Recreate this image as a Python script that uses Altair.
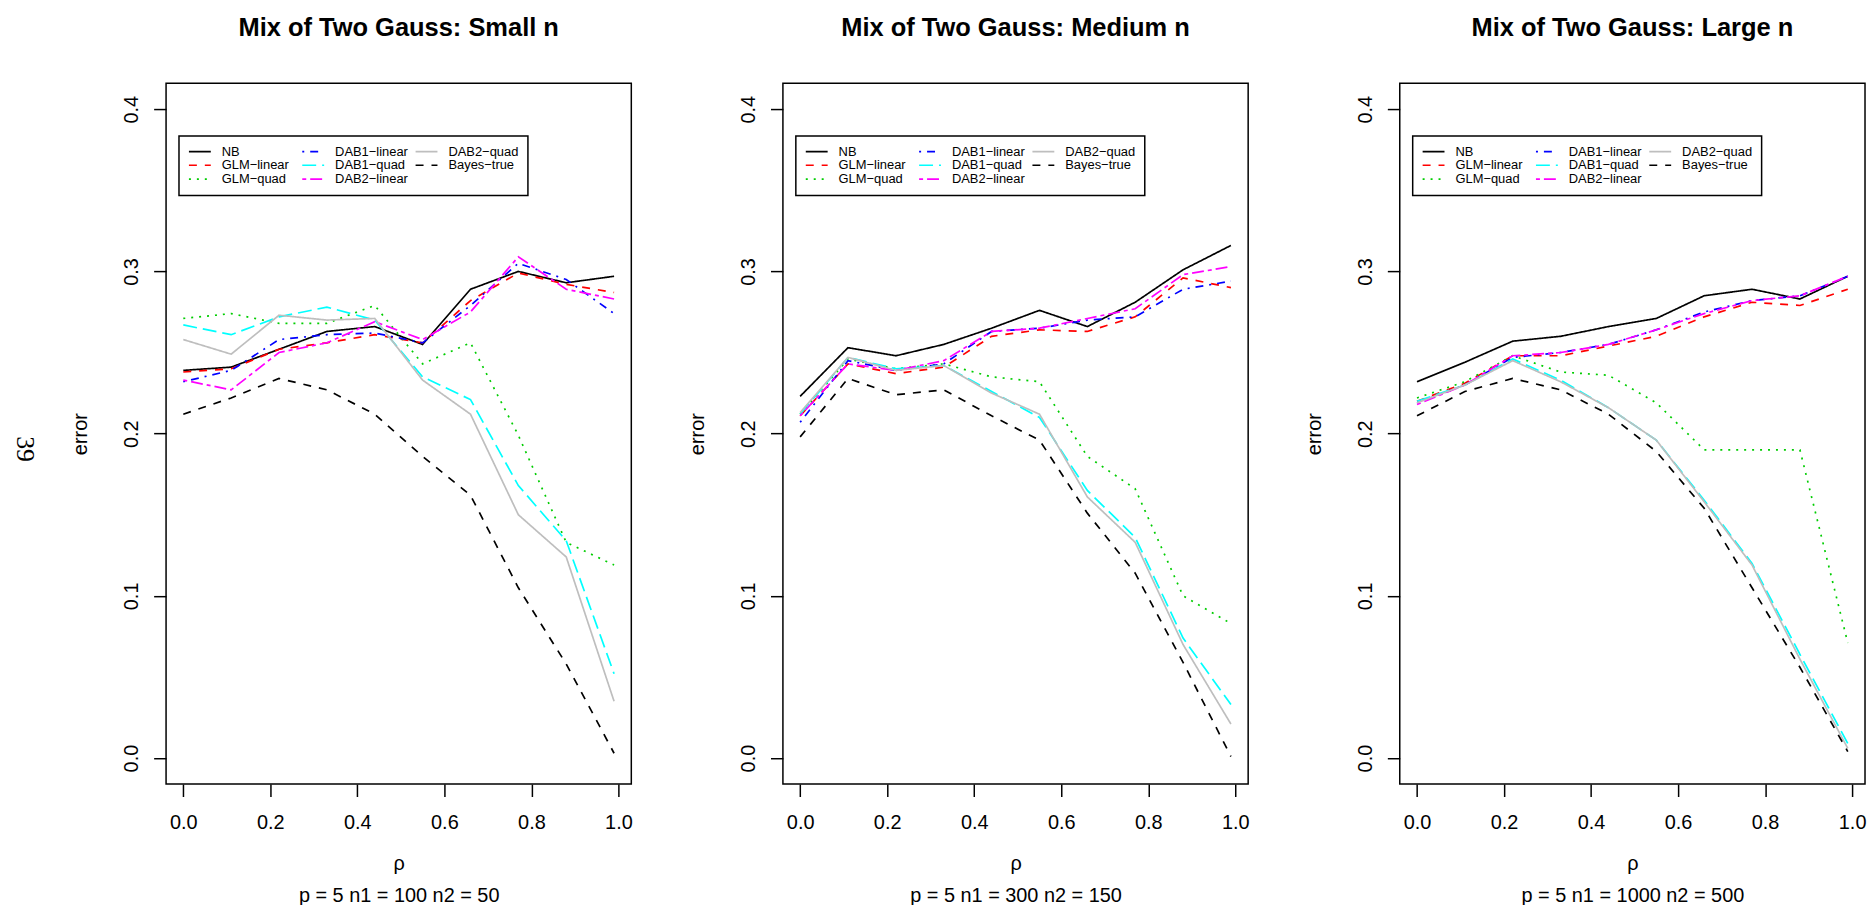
import altair as alt
import pandas as pd

rho = [0.00, 0.11, 0.22, 0.33, 0.44, 0.55, 0.66, 0.77, 0.88, 0.99]

series = ["NB", "GLM−linear", "GLM−quad", "DAB1−linear", "DAB1−quad",
          "DAB2−linear", "DAB2−quad", "Bayes−true"]
colors = ["#000000", "#FF0000", "#00CD00", "#0000FF", "#00FFFF",
          "#FF00FF", "#BEBEBE", "#000000"]
dashes = [[1, 0], [8, 8], [2, 6], [2, 6, 8, 6], [14, 6], [4, 4, 12, 4], [1, 0], [8, 8]]

y_ticks = [0.0, 0.1, 0.2, 0.3, 0.4]
x_ticks = [0.0, 0.2, 0.4, 0.6, 0.8, 1.0]

# ---- Small n ----
small_nb = [0.239, 0.241, 0.252, 0.263, 0.266, 0.255, 0.289, 0.300, 0.293, 0.297]
small_glm_linear = [0.238, 0.240, 0.252, 0.256, 0.261, 0.256, 0.282, 0.299, 0.292, 0.287]
small_glm_quad = [0.271, 0.274, 0.268, 0.268, 0.279, 0.243, 0.256, 0.199, 0.133, 0.119]
small_dab1_linear = [0.232, 0.239, 0.258, 0.261, 0.262, 0.256, 0.279, 0.305, 0.295, 0.274]
small_dab1_quad = [0.267, 0.261, 0.272, 0.278, 0.270, 0.235, 0.221, 0.168, 0.134, 0.052]
small_dab2_linear = [0.233, 0.227, 0.250, 0.256, 0.269, 0.258, 0.275, 0.309, 0.289, 0.283]
small_dab2_quad = [0.258, 0.249, 0.273, 0.270, 0.271, 0.233, 0.212, 0.150, 0.124, 0.035]
small_bayes = [0.212, 0.222, 0.234, 0.227, 0.212, 0.186, 0.162, 0.105, 0.058, 0.003]

# ---- Medium n ----
med_nb = [0.223, 0.253, 0.248, 0.255, 0.265, 0.276, 0.266, 0.281, 0.301, 0.316]
med_glm_linear = [0.211, 0.243, 0.237, 0.241, 0.260, 0.264, 0.263, 0.272, 0.296, 0.290]
med_glm_quad = [0.212, 0.246, 0.240, 0.243, 0.235, 0.232, 0.186, 0.166, 0.100, 0.083]
med_dab1_linear = [0.207, 0.245, 0.239, 0.243, 0.263, 0.265, 0.270, 0.272, 0.289, 0.294]
med_dab1_quad = [0.212, 0.247, 0.240, 0.242, 0.226, 0.210, 0.165, 0.136, 0.074, 0.033]
med_dab2_linear = [0.211, 0.243, 0.239, 0.245, 0.263, 0.265, 0.271, 0.277, 0.298, 0.303]
med_dab2_quad = [0.213, 0.247, 0.239, 0.242, 0.225, 0.212, 0.161, 0.133, 0.070, 0.021]
med_bayes = [0.198, 0.234, 0.224, 0.227, 0.211, 0.196, 0.151, 0.114, 0.059, 0.001]

# ---- Large n ----
large_nb = [0.232, 0.244, 0.257, 0.260, 0.266, 0.271, 0.285, 0.289, 0.283, 0.297]
large_glm_linear = [0.220, 0.231, 0.248, 0.248, 0.254, 0.260, 0.272, 0.281, 0.279, 0.289]
large_glm_quad = [0.222, 0.232, 0.248, 0.238, 0.236, 0.219, 0.190, 0.190, 0.190, 0.071]
large_dab1_linear = [0.219, 0.230, 0.247, 0.250, 0.255, 0.264, 0.275, 0.282, 0.285, 0.297]
large_dab1_quad = [0.220, 0.230, 0.246, 0.233, 0.216, 0.196, 0.159, 0.120, 0.064, 0.009]
large_dab2_linear = [0.218, 0.230, 0.248, 0.250, 0.255, 0.264, 0.274, 0.282, 0.285, 0.297]
large_dab2_quad = [0.219, 0.230, 0.245, 0.232, 0.216, 0.196, 0.158, 0.119, 0.061, 0.006]
large_bayes = [0.211, 0.226, 0.234, 0.227, 0.212, 0.189, 0.154, 0.105, 0.056, 0.004]

panels = [
    ("Mix of Two Gauss: Small n", "p = 5 n1 = 100 n2 = 50",
     [small_nb, small_glm_linear, small_glm_quad, small_dab1_linear,
      small_dab1_quad, small_dab2_linear, small_dab2_quad, small_bayes]),
    ("Mix of Two Gauss: Medium n", "p = 5 n1 = 300 n2 = 150",
     [med_nb, med_glm_linear, med_glm_quad, med_dab1_linear,
      med_dab1_quad, med_dab2_linear, med_dab2_quad, med_bayes]),
    ("Mix of Two Gauss: Large n", "p = 5 n1 = 1000 n2 = 500",
     [large_nb, large_glm_linear, large_glm_quad, large_dab1_linear,
      large_dab1_quad, large_dab2_linear, large_dab2_quad, large_bayes]),
]

FONT = "Liberation Sans"
W, H = 468, 705

color_scale = alt.Scale(domain=series, range=colors)
dash_scale = alt.Scale(domain=series, range=dashes)

legend = alt.Legend(
    orient="none", legendX=13, legendY=53, columns=3, title=None,
    symbolType="M-1,0H3", symbolSize=121, symbolStrokeWidth=1.7,
    labelFontSize=13, labelFont=FONT, labelColor="black", labelOffset=21,
    padding=9, rowPadding=0, columnPadding=3, gridAlign="all",
    strokeColor="black", fillColor="white",
)


def make_panel(title, sub, values, with_page_number):
    rows = []
    for k, (name, vals) in enumerate(zip(series, values)):
        for r, v in zip(rho, vals):
            rows.append({"rho": r, "error": v, "method": name, "k": k})
    df = pd.DataFrame(rows)
    lines = alt.Chart(df).mark_line(strokeWidth=1.7, strokeCap="butt").encode(
        x=alt.X("rho:Q",
                scale=alt.Scale(domain=[-0.0396, 1.0296], nice=False, zero=False),
                axis=alt.Axis(values=x_ticks, format=".1f", title=["ρ", sub],
                              titleY=86, titleBaseline="alphabetic",
                              titleLineHeight=32)),
        y=alt.Y("error:Q",
                scale=alt.Scale(domain=[-0.016, 0.416], nice=False, zero=False),
                axis=alt.Axis(values=y_ticks, format=".1f", title="error",
                              labelAngle=270, labelAlign="center",
                              labelBaseline="alphabetic", labelPadding=16,
                              titleAngle=270, titleX=-80, titleY=H / 2,
                              titleAlign="center", titleBaseline="alphabetic")),
        color=alt.Color("method:N", scale=color_scale, legend=legend),
        strokeDash=alt.StrokeDash("method:N", scale=dash_scale, legend=legend),
        detail="k:N",
        order="rho:Q",
    )
    layers = [lines]
    if with_page_number:
        pn = alt.Chart(pd.DataFrame({"t": ["39"]})).mark_text(
            font="Liberation Serif", fontSize=26, angle=90, align="center",
            baseline="middle", color="black"
        ).encode(text="t:N", x=alt.value(-142), y=alt.value(368))
        layers.append(pn)
    return alt.layer(*layers).properties(
        width=W, height=H,
        title=alt.TitleParams(title, font=FONT, fontSize=25.6, fontWeight="bold",
                              anchor="middle", baseline="alphabetic", offset=22,
                              color="black"),
    )


charts = [make_panel(t, s, v, i == 0) for i, (t, s, v) in enumerate(panels)]

chart = alt.hconcat(*charts, spacing=152.5, bounds="flush").resolve_legend(
    color="independent", strokeDash="independent"
).configure(
    font=FONT,
    padding={"left": 3, "top": 4, "right": 0, "bottom": 0},
    background="white",
).configure_view(
    stroke="black", strokeWidth=1.5, fill="white"
).configure_axis(
    domain=False, grid=False, ticks=True, tickSize=12.5, tickWidth=1.5,
    tickColor="black", labelFont=FONT, labelFontSize=20, labelColor="black",
    titleFont=FONT, titleFontSize=20, titleFontWeight="normal", titleColor="black",
).configure_axisX(
    labelPadding=32, labelBaseline="alphabetic", labelAngle=0
).configure_legend(
    strokeWidth=1.5
)

chart.save("out.html", embed_options={"renderer": "svg", "actions": False})
